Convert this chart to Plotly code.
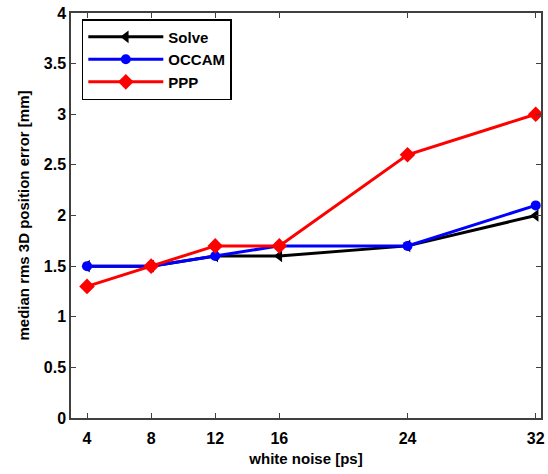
import plotly.graph_objects as go

x_noise = [4, 8, 12, 16, 24, 32]
solve = [1.5, 1.5, 1.6, 1.6, 1.7, 2.0]
occam = [1.5, 1.5, 1.6, 1.7, 1.7, 2.1]
ppp = [1.3, 1.5, 1.7, 1.7, 2.6, 3.0]
x_ticks = [4, 8, 12, 16, 24, 32]

fig = go.Figure()
fig.add_trace(go.Scatter(x=x_noise, y=solve, name="Solve", mode="lines+markers",
                         line=dict(color="black", width=3),
                         marker=dict(symbol="triangle-left", size=11, color="black")))
fig.add_trace(go.Scatter(x=x_noise, y=occam, name="OCCAM", mode="lines+markers",
                         line=dict(color="#0000ff", width=3),
                         marker=dict(symbol="circle", size=10, color="#0000ff")))
fig.add_trace(go.Scatter(x=x_noise, y=ppp, name="PPP", mode="lines+markers",
                         line=dict(color="#ff0000", width=3),
                         marker=dict(symbol="diamond", size=12, color="#ff0000")))

axis_common = dict(showline=True, mirror="ticks", linecolor="#404040", linewidth=1.5,
                   ticks="inside", ticklen=5, tickcolor="#404040", showgrid=False,
                   zeroline=False, automargin=False,
                   tickfont=dict(size=16, color="black", weight="bold"))

fig.update_layout(
    width=548, height=474,
    margin=dict(l=71, r=7, t=13, b=56),
    paper_bgcolor="white", plot_bgcolor="white",
    font=dict(family="Liberation Sans, Arial, sans-serif", color="black", weight="bold"),
    xaxis=dict(range=[3, 32.33], tickvals=x_ticks, ticktext=[str(v) for v in x_ticks],
               ticklabelstandoff=5,
               title=dict(text="white noise [ps]", font=dict(size=15, weight="bold"), standoff=8),
               **axis_common),
    yaxis=dict(range=[0, 4], dtick=0.5, tick0=0,
               title=dict(text="median rms 3D position error [mm]", font=dict(size=15, weight="bold"), standoff=11),
               **axis_common),
    legend=dict(x=0.023, y=0.985, xanchor="left", yanchor="top",
                bordercolor="black", borderwidth=1.5, bgcolor="white",
                font=dict(size=15, weight="bold"), tracegroupgap=0,
                itemwidth=75),
    showlegend=True,
)

fig.write_html("out.html", config={"displayModeBar": False},
               post_script="document.body.style.margin='0px';document.body.style.overflow='hidden';")
